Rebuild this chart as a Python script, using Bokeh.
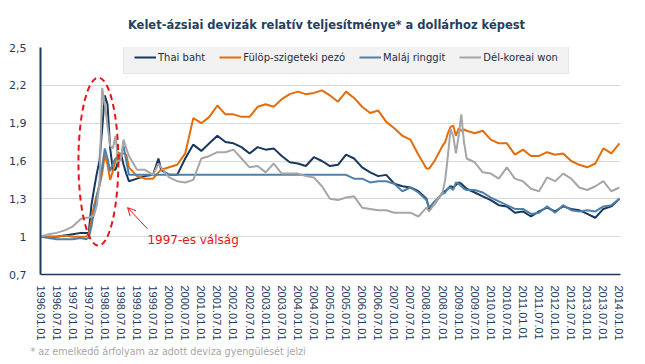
from bokeh.plotting import figure
from bokeh.models import Range1d, FixedTicker, Legend, LegendItem, Label, Arrow, OpenHead, Title
from bokeh.embed import file_html
from bokeh.resources import INLINE

# month index counted from 1996.01
months = [0, 3, 6, 9, 12, 15, 17,
          18, 19, 20, 21, 22, 23, 24, 25, 26, 27, 28, 29, 30, 31, 32, 33,
          36, 39, 42, 44, 45,
          48, 51, 54, 57, 60, 63, 66, 69, 72, 75, 78, 81, 84, 87, 90, 93, 96, 99, 102, 105,
          108, 111, 114, 117, 120, 123, 126, 129, 132, 135, 138, 141,
          144, 145, 147,
          150, 151, 152, 153, 154, 155, 156, 157, 158, 159,
          162, 165, 168, 171, 174, 177, 180, 183, 186, 189, 192, 195, 198, 201, 204, 207, 210, 213, 216]

thai_baht = [1.00, 1.00, 1.00, 1.01, 1.02, 1.03, 1.03,
             1.03, 1.25, 1.38, 1.50, 1.60, 1.85, 2.12, 2.05, 1.70, 1.53, 1.53, 1.60, 1.66, 1.57, 1.50, 1.44,
             1.46, 1.48, 1.49, 1.62, 1.53,
             1.49, 1.49, 1.62, 1.73, 1.68, 1.74, 1.80, 1.75, 1.74, 1.71,
             1.66, 1.71, 1.69, 1.70, 1.64, 1.59, 1.58, 1.56, 1.63, 1.60,
             1.56, 1.57, 1.65, 1.62, 1.55, 1.51, 1.48, 1.49, 1.42, 1.40,
             1.39, 1.36,
             1.30, 1.22, 1.26,
             1.35, 1.36, 1.38, 1.40, 1.39, 1.41, 1.43, 1.42, 1.40, 1.38,
             1.35, 1.32, 1.29, 1.25, 1.24, 1.19, 1.20, 1.16, 1.20, 1.23, 1.20, 1.24, 1.22, 1.21, 1.18, 1.15, 1.22, 1.24, 1.30]

philippine_peso = [1.00, 1.00, 1.00, 1.01, 1.00, 1.00, 1.00,
                   1.02, 1.13, 1.25, 1.33, 1.40, 1.50, 1.65, 1.57, 1.45, 1.52, 1.60, 1.67, 1.65, 1.66, 1.65, 1.55,
                   1.48, 1.46, 1.46, 1.51, 1.53,
                   1.55, 1.57, 1.66, 1.94, 1.90, 1.95, 2.04, 1.97, 1.97, 1.95,
                   1.95, 2.03, 2.05, 2.03, 2.09, 2.13, 2.15, 2.13, 2.14, 2.16,
                   2.12, 2.07, 2.15, 2.10, 2.03, 1.98, 2.00, 1.91, 1.86, 1.80,
                   1.77, 1.65,
                   1.54, 1.54, 1.60,
                   1.72, 1.75, 1.82, 1.87, 1.88, 1.80, 1.86, 1.84, 1.85, 1.84,
                   1.82, 1.84, 1.77, 1.74, 1.74, 1.65, 1.69, 1.64, 1.64, 1.67, 1.65, 1.66, 1.60, 1.57, 1.55, 1.58, 1.70, 1.66, 1.74]

malay_ringgit = [1.00, 0.99, 0.98, 0.98, 0.98, 0.99, 0.98,
                 0.99, 1.08, 1.20, 1.32, 1.42, 1.55, 1.70, 1.62, 1.52, 1.58, 1.62, 1.62, 1.64, 1.72, 1.60, 1.49,
                 1.49, 1.49, 1.49, 1.49, 1.49,
                 1.49, 1.49, 1.49, 1.49, 1.49, 1.49, 1.49, 1.49, 1.49, 1.49,
                 1.49, 1.49, 1.49, 1.49, 1.49, 1.49, 1.49, 1.49, 1.49, 1.49,
                 1.49, 1.49, 1.49, 1.46, 1.46, 1.43, 1.44, 1.44, 1.42, 1.36,
                 1.39, 1.35,
                 1.29, 1.23, 1.28,
                 1.34, 1.35, 1.38, 1.39, 1.37, 1.43, 1.42, 1.40, 1.38, 1.37,
                 1.37, 1.35, 1.31, 1.28, 1.25, 1.22, 1.22, 1.18, 1.19, 1.24, 1.19, 1.25, 1.21, 1.20, 1.21, 1.20, 1.24, 1.25, 1.30]

korean_won = [1.00, 1.02, 1.03, 1.05, 1.08, 1.14, 1.15,
              1.15, 1.16, 1.17, 1.25, 1.42, 2.18, 2.05, 1.88, 1.72, 1.70, 1.80, 1.58, 1.62, 1.77, 1.70, 1.64,
              1.53, 1.53, 1.49, 1.58, 1.55,
              1.47, 1.44, 1.43, 1.45, 1.62, 1.64, 1.67, 1.67, 1.69, 1.62,
              1.55, 1.56, 1.51, 1.58, 1.50, 1.50, 1.50, 1.48, 1.47, 1.40,
              1.30, 1.29, 1.31, 1.32, 1.23, 1.22, 1.21, 1.21, 1.19, 1.19,
              1.19, 1.16,
              1.23, 1.20, 1.26,
              1.35, 1.45, 1.64, 1.85, 1.80, 1.66, 1.80, 1.97, 1.75, 1.62,
              1.59, 1.51, 1.50, 1.46, 1.55, 1.46, 1.44, 1.38, 1.36, 1.47, 1.44, 1.50, 1.46, 1.39, 1.37, 1.40, 1.44, 1.36, 1.39]

series_names = ["Thai baht", "Fülöp-szigeteki pezó", "Maláj ringgit", "Dél-koreai won"]
series_values = [thai_baht, philippine_peso, malay_ringgit, korean_won]
series_colors = ["#17375e", "#e46c0a", "#4f81a8", "#a6a6a6"]

x_tick_months = list(range(0, 217, 6))
x_tick_labels = ["%d.%02d.01" % (1996 + t // 12, t % 12 + 1) for t in x_tick_months]
y_ticks = [0.7, 1, 1.3, 1.6, 1.9, 2.2, 2.5]
y_tick_labels = ["0,7", "1", "1,3", "1,6", "1,9", "2,2", "2,5"]

title_text = "Kelet-ázsiai  devizák relatív teljesítménye*  a dollárhoz képest"
note_text = "* az emelkedő árfolyam az adott deviza gyengülését jelzi"
crisis_text = "1997-es válság"

navy = "#1f3a5f"

p = figure(frame_width=580, frame_height=227,
           x_range=Range1d(0, 216.4), y_range=Range1d(0.7, 2.5),
           output_backend="svg", toolbar_location=None,
           min_border_left=40, min_border_right=17, min_border_top=45, min_border_bottom=84)
p.outline_line_color = None
p.background_fill_color = "white"
p.border_fill_color = "white"

renderers = []
for name, vals, col in zip(series_names, series_values, series_colors):
    r = p.line(months, vals, line_color=col, line_width=2)
    renderers.append(r)

# axes
p.xaxis.ticker = FixedTicker(ticks=x_tick_months)
p.xaxis.major_label_overrides = dict(zip(x_tick_months, x_tick_labels))
p.xaxis.major_label_orientation = "vertical"
p.xaxis.major_label_text_font = "Liberation Sans"
p.xaxis.major_label_text_font_size = "11px"
p.xaxis.major_label_text_color = navy
p.xaxis.major_label_standoff = 5
p.xaxis.axis_line_color = navy
p.xaxis.axis_line_width = 1.5
p.xaxis.major_tick_line_color = None
p.xaxis.minor_tick_line_color = None

p.yaxis.ticker = FixedTicker(ticks=y_ticks)
p.yaxis.major_label_overrides = dict(zip(y_ticks, y_tick_labels))
p.yaxis.major_label_text_font = "DejaVu Sans"
p.yaxis.major_label_text_font_size = "11px"
p.yaxis.major_label_text_color = navy
p.yaxis.major_label_standoff = 8
p.yaxis.axis_line_color = navy
p.yaxis.axis_line_width = 2
p.yaxis.major_tick_line_color = None
p.yaxis.minor_tick_line_color = None

p.xgrid.grid_line_color = None
p.ygrid.grid_line_color = "#d9d9d9"
p.ygrid.grid_line_width = 1

# legend
items = [LegendItem(label=n, renderers=[r]) for n, r in zip(series_names, renderers)]
legend = Legend(items=items, orientation="horizontal", location=(83, 200),
                background_fill_color="#f2f2f2", background_fill_alpha=1,
                border_line_color="#d9d9d9", border_line_width=1,
                label_text_font="DejaVu Sans", label_text_font_size="10px",
                label_text_color="#1f2d3d",
                glyph_width=22, glyph_height=12, label_standoff=2,
                spacing=14, padding=10, margin=0)
p.add_layout(legend)

# crisis annotation
p.ellipse(x=21.6, y=1.595, width=14.9, height=1.333, fill_alpha=0,
          line_color="#e8141b", line_width=2, line_dash="6 4")
p.add_layout(Arrow(end=OpenHead(size=8, line_color="#e8141b", line_width=1),
                   x_start=39.9, y_start=1.063, x_end=32.5, y_end=1.23,
                   line_color="#e8141b", line_width=1))
p.add_layout(Label(x=39.9, y=0.975, text=crisis_text, text_font="DejaVu Sans",
                   text_font_size="12px", text_color="#e8141b",
                   text_baseline="middle", text_align="left"))

# title and footnote
p.add_layout(Title(text=title_text, align="center", text_font="DejaVu Sans",
                   text_font_style="bold", text_font_size="11.5px", text_color="#243f60",
                   standoff=31), "above")
p.add_layout(Title(text=note_text, align="left", offset=-10, text_font="DejaVu Sans",
                   text_font_style="normal", text_font_size="9.6px", text_color="#a6a6a6",
                   standoff=0), "below")

open("out.html", "w").write(file_html(p, INLINE))
